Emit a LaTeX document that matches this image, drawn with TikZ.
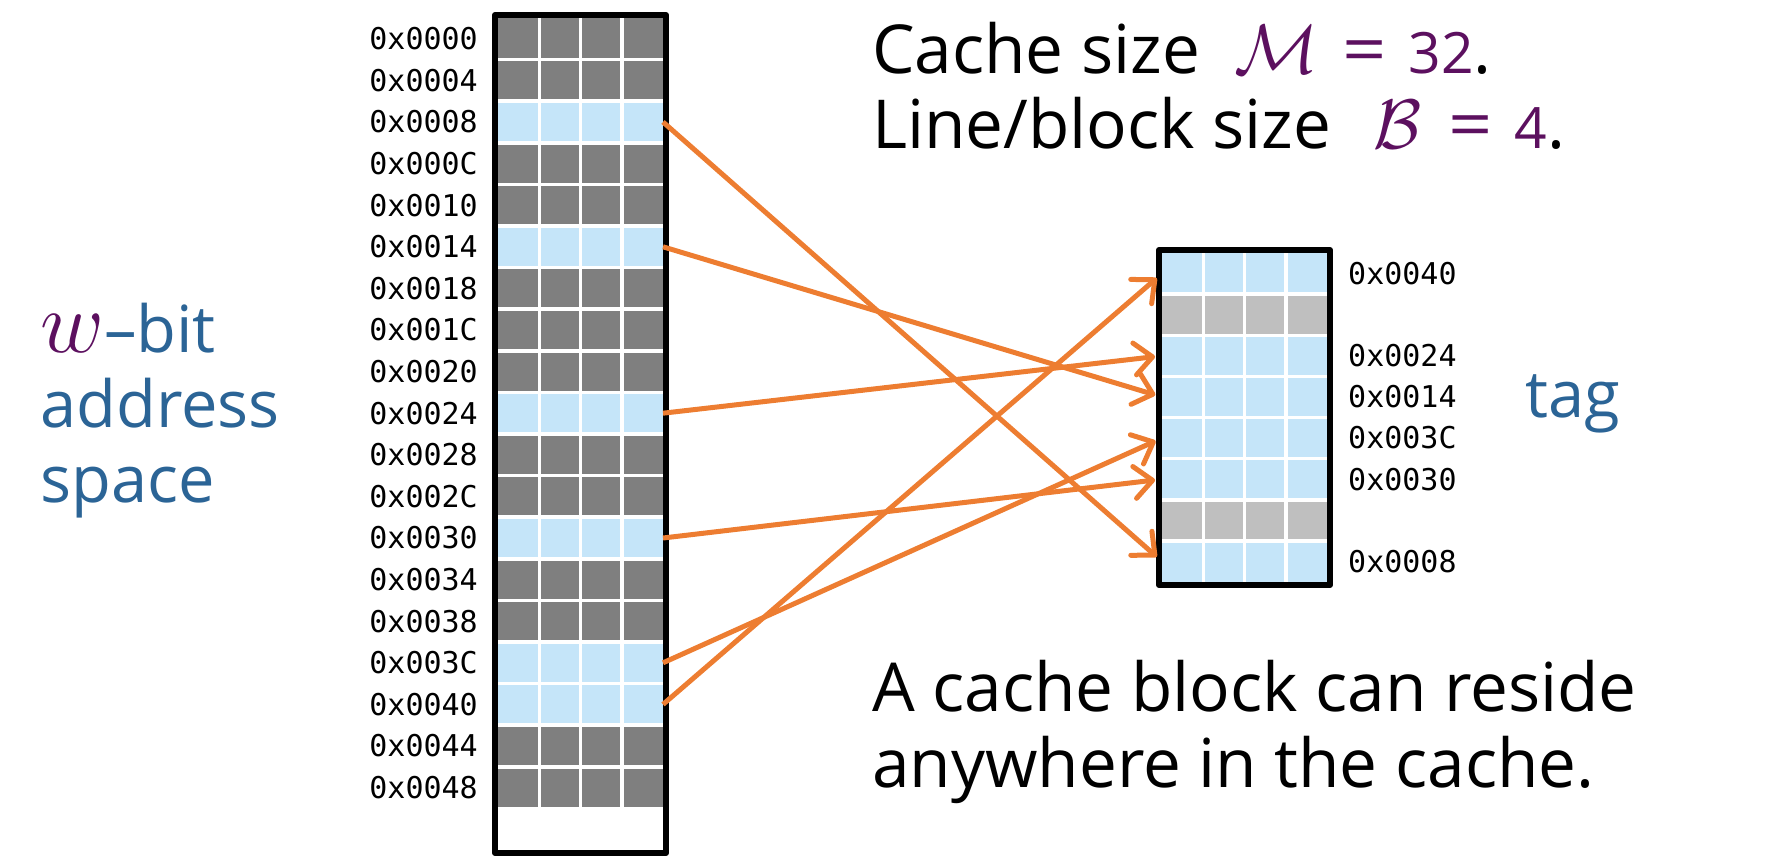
\RequirePackage{fix-cm}
\documentclass[tikz,border=0pt]{standalone}
\usepackage{fontspec}
\setmainfont[Numbers=Lining]{Open Sans}
\newfontfamily\monofont{DejaVu Sans Mono}
\usetikzlibrary{arrows.meta,calc}
\definecolor{memgray}{HTML}{7F7F7F}
\definecolor{cellblue}{HTML}{C5E5F9}
\definecolor{lightgr}{HTML}{BFBFBF}
\definecolor{arroworange}{HTML}{ED7D31}
\definecolor{textblue}{RGB}{43,100,150}
\definecolor{mathpurple}{RGB}{92,16,95}
\newcommand\calbig[1]{{\fontsize{70}{75}\selectfont$\mathcal{#1}$}}
\newcommand\numsmall[1]{{\fontsize{57}{75}\selectfont #1}}
\newcommand\wideeq{\scalebox{1.15}[1]{=}}
\begin{document}
\begin{tikzpicture}[x=1pt,y=-1pt,
  memrow/.style={rectangle, inner sep=0pt, outer sep=0pt, minimum width=165pt, minimum height=41.6pt},
  cacherow/.style={rectangle, inner sep=0pt, outer sep=0pt, minimum width=165pt, minimum height=41.125pt},
  addrlab/.style={inner sep=0pt, font=\monofont\fontsize{30}{30}\selectfont},
  bigtext/.style={inner sep=0pt, anchor=base west, font=\fontsize{67.5}{75}\selectfont},
  sidetext/.style={inner sep=0pt, anchor=base west, text=textblue, font=\fontsize{65}{75}\selectfont},
  mapping/.style={draw=arroworange, line width=5pt, shorten >=7pt, -{Straight Barb[length=18pt,width=32pt,round]}},
  sep/.style={white, line width=3.5pt},
  boxborder/.style={black, line width=6pt, line join=round}
]
\useasboundingbox (0,0) rectangle (1768,862);
% memory rows
\foreach \i/\c in {0/memgray,1/memgray,2/cellblue,3/memgray,4/memgray,5/cellblue,6/memgray,7/memgray,8/memgray,9/cellblue,10/memgray,11/memgray,12/cellblue,13/memgray,14/memgray,15/cellblue,16/cellblue,17/memgray,18/memgray,19/white}
  \node[memrow, fill=\c] (m\i) at (580.5,{38.8+41.6*\i}) {};
\foreach \k in {1,2,3} \draw[sep] ({498+41.25*\k},18) -- ({498+41.25*\k},808.4);
\foreach \k in {1,...,19} \draw[sep] (498,{18+41.6*\k}) -- (663,{18+41.6*\k});
\draw[boxborder] (495,15) rectangle (666,853);
% memory labels
\foreach \i/\t in {0/0000,1/0004,2/0008,3/000C,4/0010,5/0014,6/0018,7/001C,8/0020,9/0024,10/0028,11/002C,12/0030,13/0034,14/0038,15/003C,16/0040,17/0044,18/0048}
  \node[addrlab, anchor=east] (lm\i) at ($(m\i.west)+(-20,0)$) {0x\t};
% cache rows
\foreach \i/\c in {0/cellblue,1/lightgr,2/cellblue,3/cellblue,4/cellblue,5/cellblue,6/lightgr,7/cellblue}
  \node[cacherow, fill=\c] (c\i) at (1244.5,{273.5625+41.125*\i}) {};
\foreach \k in {1,2,3} \draw[sep] ({1162+41.25*\k},253) -- ({1162+41.25*\k},582);
\foreach \k in {1,...,7} \draw[sep] (1162,{253+41.125*\k}) -- (1327,{253+41.125*\k});
\draw[boxborder] (1159,250) rectangle (1330,585);
% cache labels
\foreach \i/\t in {0/0040,2/0024,3/0014,4/003C,5/0030,7/0008}
  \node[addrlab, anchor=west] (lc\i) at ($(c\i.east)+(21,0)$) {0x\t};
% mappings
\draw[mapping] (m2.east) -- (c7.west);
\draw[mapping] (m5.east) -- (c3.west);
\draw[mapping] (m9.east) -- (c2.west);
\draw[mapping] (m12.east) -- (c5.west);
\draw[mapping] (m15.east) -- (c4.west);
\draw[mapping] (m16.east) -- (c0.west);
% texts
\node[bigtext] (t1) at (872,73) {Cache size\hspace{34pt}{\color{mathpurple}\calbig{M}\hspace{24pt}\wideeq\hspace{22pt}\numsmall{32}}.};
\node[bigtext] (t2) at (872,148) {Line/block size\hspace{42pt}{\color{mathpurple}\calbig{B}\hspace{27pt}\wideeq\hspace{22pt}\numsmall{4}}.};
\node[bigtext] (t3) at (872,711) {A cache block can reside};
\node[bigtext] (t4) at (872,787) {anywhere in the cache.};
\node[sidetext] (w1) at (40,352) {{\color{mathpurple}\fontsize{88}{75}\selectfont$w$}–bit};
\node[sidetext] (w2) at (40,427) {address};
\node[sidetext] (w3) at (40,502) {space};
\node[sidetext] (tag) at (1525,417) {tag};
\end{tikzpicture}
\end{document}
